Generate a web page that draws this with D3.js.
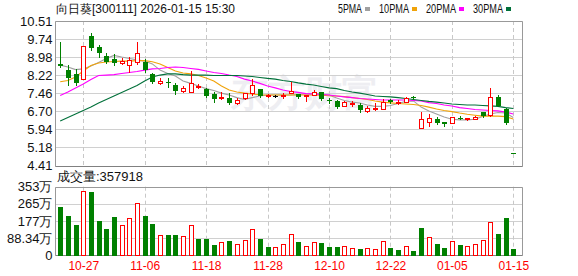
<!DOCTYPE html>
<html>
<head>
<meta charset="utf-8">
<script src="https://cdn.jsdelivr.net/npm/d3@7/dist/d3.min.js"></script>
<style>
  body { margin: 0; background: #fff; }
  svg { display: block; }
  text { font-family: "Liberation Sans", Arial, sans-serif; }
</style>
</head>
<body>
<div class="chart"></div>
<script>
// ---- data ----
var dates = ["10-22","10-23","10-24","10-27","10-28","10-29","10-30","10-31",
  "11-03","11-04","11-05","11-06","11-07","11-10","11-11","11-12","11-13","11-14",
  "11-17","11-18","11-19","11-20","11-21","11-24","11-25","11-26","11-27","11-28",
  "12-01","12-02","12-03","12-04","12-05","12-08","12-09","12-10","12-11","12-12",
  "12-15","12-16","12-17","12-18","12-19","12-22","12-23","12-24","12-25","12-26",
  "12-29","12-30","12-31","01-05","01-06","01-07","01-08","01-09","01-12","01-13",
  "01-14","01-15"];

var open  = [8.70,8.44,8.26,8.05,9.88,9.43,9.03,8.89,8.73,8.65, 8.79,8.79,8.27,7.88,7.92,7.83,7.56,7.53,7.74,7.63,
             7.42,7.27,7.28,7.04,7.25,7.46,7.63,7.36,7.36,7.36, 7.47,7.42,7.35,7.39,7.50,7.16,7.14,6.93,7.03,6.97,
             6.73,6.83,6.79,7.18,7.06,7.11,7.30,5.99,6.27,6.37, 6.24,6.20,6.42,6.40,6.38,6.66,6.55,7.32,6.79,4.95];
var high  = [9.64,8.66,8.47,9.46,10.02,9.50,9.17,9.12,8.94,9.00, 9.64,8.91,8.30,8.09,8.09,7.91,7.77,8.40,7.84,7.69,
             7.50,7.50,7.46,7.25,7.49,8.06,7.65,7.42,7.38,7.46, 7.94,7.44,7.40,7.60,7.53,7.25,7.20,7.14,7.14,7.04,
             6.92,7.04,7.23,7.24,7.18,7.32,7.33,6.69,6.58,6.48, 6.26,6.48,6.52,6.43,6.52,6.66,7.67,7.39,6.83,4.95];
var low   = [8.58,7.81,7.81,8.05,9.29,9.00,8.73,8.65,8.65,8.33, 8.65,8.37,7.88,7.81,7.74,7.43,7.46,7.46,7.63,7.30,
             7.11,7.18,7.00,6.97,7.18,7.35,7.32,7.25,7.32,7.21, 7.43,7.27,7.08,7.33,7.19,7.04,6.86,6.87,6.90,6.69,
             6.62,6.73,6.79,7.06,6.97,7.04,7.22,5.99,6.04,6.17, 6.10,6.20,6.37,6.31,6.37,6.45,6.45,6.93,6.17,4.94];
var close = [8.63,8.09,7.88,9.46,9.36,9.15,8.79,8.73,8.82,8.87, 9.15,8.44,7.95,7.98,7.90,7.58,7.70,7.91,7.76,7.35,
             7.22,7.30,7.07,7.18,7.46,7.81,7.36,7.39,7.36,7.39, 7.56,7.32,7.38,7.53,7.22,7.14,6.90,7.08,7.06,6.76,
             6.85,6.86,7.11,7.08,7.09,7.25,7.26,6.37,6.41,6.22, 6.16,6.45,6.40,6.42,6.48,6.52,7.29,6.93,6.20,4.94];

// volume in 万, and whether the bar is drawn red (1) or green (0)
var volume = [253,207,160,331,333,181,140,202,153,190, 267,207,165,102,109,109,97,153,88,88,
              57,66,78,55,76,133,88,47,40,55, 107,72,47,66,66,47,47,47,35,38,
              38,31,71,41,31,47,26,145,91,62, 41,71,57,47,55,78,169,114,196,35.79];
var volUp = [0,0,0,1,0,0,0,0,1,1, 1,0,0,1,0,0,1,1,0,0,
             0,1,0,1,1,1,0,0,1,1, 1,0,1,1,0,0,0,1,1,0,
             1,1,1,0,0,1,0,0,1,0, 0,1,0,1,1,1,1,0,0,0];

var ma5  = [8.65,8.57,8.46,8.49,8.61,8.76,8.93,9.06,8.99,8.93, 8.87,8.82,8.70,8.44,8.30,8.19,7.98,7.88,7.77,7.66,
            7.58,7.47,7.39,7.28,7.20,7.28,7.35,7.39,7.39,7.39, 7.39,7.41,7.43,7.45,7.43,7.39,7.26,7.16,7.09,7.05,
            6.97,6.91,6.91,6.95,7.03,7.12,7.14,6.88,6.72,6.59, 6.46,6.37,6.34,6.34,6.37,6.48,6.59,6.65,6.63,6.44];
var ma10 = [7.95,8.00,8.15,8.40,8.63,8.74,8.78,8.80,8.82,8.82, 8.84,8.84,8.79,8.70,8.55,8.40,8.32,8.28,8.21,8.11,
            7.98,7.77,7.60,7.52,7.47,7.43,7.40,7.39,7.39,7.39, 7.39,7.39,7.39,7.39,7.38,7.36,7.35,7.32,7.28,7.24,
            7.20,7.14,7.09,7.06,7.03,7.01,6.99,6.95,6.88,6.80, 6.74,6.69,6.63,6.58,6.54,6.50,6.50,6.50,6.48,6.38];
var ma20 = [7.37,7.52,7.69,7.85,8.04,8.21,8.23,8.25,8.30,8.34, 8.38,8.44,8.49,8.51,8.55,8.57,8.55,8.51,8.47,8.40,
            8.34,8.30,8.23,8.17,8.06,7.98,7.88,7.77,7.69,7.60, 7.54,7.50,7.45,7.43,7.41,7.39,7.35,7.31,7.28,7.24,
            7.22,7.20,7.18,7.18,7.18,7.18,7.16,7.14,7.07,7.03, 6.97,6.93,6.86,6.82,6.78,6.76,6.74,6.72,6.67,6.59];
var ma30 = [6.29,6.44,6.59,6.74,6.88,7.05,7.20,7.35,7.50,7.64, 7.79,7.98,8.15,8.23,8.28,8.28,8.25,8.23,8.23,8.23,
            8.21,8.21,8.21,8.21,8.19,8.17,8.13,8.09,8.06,8.00, 7.96,7.90,7.85,7.81,7.75,7.69,7.66,7.58,7.52,7.47,
            7.41,7.35,7.33,7.31,7.28,7.24,7.20,7.16,7.12,7.09, 7.05,7.01,6.99,6.97,6.97,6.95,6.93,6.91,6.86,6.82];

var maNames = ["5PMA", "10PMA", "20PMA", "30PMA"];
var maColors = ["#a0a0a0", "#f0a30a", "#ff00ff", "#00703a"];

var priceTicks = [10.51, 9.74, 8.98, 8.22, 7.46, 6.70, 5.94, 5.18, 4.41];
var volTicks = [0, 88.34, 176.68, 265.02, 353.36];
var volTickLabels = ["0", "88.34万", "177万", "265万", "353万"];
var dateTicks = ["10-27", "11-06", "11-18", "11-28", "12-10", "12-22", "01-05", "01-15"];

var title = "向日葵[300111] 2026-01-15 15:30";
var volTitle = "成交量:357918";

// ---- layout ----
const W = 578, H = 276;
const left = 55.5, right = 522.5;
const pTop = 21, pBot = 165.7, vTop = 186.7, vBot = 255;
const RED = "#ff0000", GREEN = "#008000";

var svg = d3.select(".chart").append("svg")
    .attr("width", W)
    .attr("height", H);

var x = d3.scalePoint().domain(dates).range([60.2, 513.3]);
var y = d3.scaleLinear().domain([4.41, 10.51]).range([pBot, pTop]);
var yv = d3.scaleLinear().domain([0, 353.36]).range([vBot, vTop]);

var px = d => Math.round(x(d));
var crisp = v => Math.round(v) + 0.5;

// watermark
svg.append("text")
    .attr("x", 231).attr("y", 106)
    .attr("font-family", "Noto Sans CJK SC")
    .attr("font-size", 37)
    .attr("font-weight", "bold")
    .attr("fill", "#eeeef2")
    .text("东方财富");

// horizontal grid (price)
svg.append("g").selectAll("line")
    .data(priceTicks)
    .join("line")
    .attr("x1", left).attr("x2", right)
    .attr("y1", d => crisp(y(d))).attr("y2", d => crisp(y(d)))
    .attr("stroke", "#d0d0d0");

// horizontal grid (volume)
svg.append("g").selectAll("line")
    .data(volTicks)
    .join("line")
    .attr("x1", left).attr("x2", right)
    .attr("y1", d => crisp(yv(d))).attr("y2", d => crisp(yv(d)))
    .attr("stroke", "#d0d0d0");

// vertical dashed grid
[[pTop, pBot], [vTop, vBot]].forEach(function(r) {
    svg.append("g").selectAll("line")
        .data(dateTicks)
        .join("line")
        .attr("x1", d => px(d) + 0.5).attr("x2", d => px(d) + 0.5)
        .attr("y1", r[0]).attr("y2", r[1])
        .attr("stroke", "#c8c8c8")
        .attr("stroke-dasharray", "4,3");
});

// panel borders
[[pTop, pBot], [vTop, vBot]].forEach(function(r) {
    var t = crisp(r[0]), b = crisp(r[1]);
    svg.append("path")
        .attr("d", `M${left},${b}V${t}H${right}V${b}`)
        .attr("fill", "none").attr("stroke", "#999");
    svg.append("line")
        .attr("x1", left).attr("x2", right).attr("y1", b).attr("y2", b)
        .attr("stroke", "#808080");
});

// moving averages
var line = d3.line().x((d, i) => x(dates[i])).y(d => y(d));
[ma5, ma10, ma20, ma30].forEach(function(ma, k) {
    svg.append("path")
        .datum(ma)
        .attr("d", line)
        .attr("fill", "none")
        .attr("stroke", maColors[k])
        .attr("stroke-width", 1.1);
});

// candles
var candles = dates.map((d, i) => ({ date: d, o: open[i], h: high[i], l: low[i], c: close[i] }));
var cg = svg.append("g").attr("shape-rendering", "crispEdges");

candles.forEach(function(d) {
    var cx = px(d.date);
    var color = d.c > d.o ? RED : (d.c < d.o ? GREEN : "#000");
    var yt = Math.round(y(Math.max(d.o, d.c)));
    var yb = Math.round(y(Math.min(d.o, d.c)));
    var yh = Math.round(y(d.h)), yl = Math.round(y(d.l));
    if (d.c > d.o) {
        // hollow red body, wick outside the body only
        if (yh < yt) cg.append("line").attr("x1", cx + 0.5).attr("x2", cx + 0.5).attr("y1", yh).attr("y2", yt).attr("stroke", color);
        if (yl > yb) cg.append("line").attr("x1", cx + 0.5).attr("x2", cx + 0.5).attr("y1", yb).attr("y2", yl).attr("stroke", color);
        cg.append("rect")
            .attr("x", cx - 1.5).attr("y", yt + 0.5)
            .attr("width", 4).attr("height", Math.max(yb - yt, 1))
            .attr("fill", "#fff").attr("stroke", color);
    } else {
        if (yl > yh) cg.append("line").attr("x1", cx + 0.5).attr("x2", cx + 0.5).attr("y1", yh).attr("y2", yl + 1).attr("stroke", color);
        cg.append("rect")
            .attr("x", cx - 2).attr("y", yt)
            .attr("width", 5).attr("height", Math.max(yb - yt, 1))
            .attr("fill", color);
    }
});

// volume bars
var vg = svg.append("g").attr("shape-rendering", "crispEdges");
vg.selectAll("rect")
    .data(volume)
    .join("rect")
    .attr("x", (d, i) => volUp[i] ? px(dates[i]) - 1.5 : px(dates[i]) - 2)
    .attr("y", d => Math.round(yv(d)) + 0.5)
    .attr("width", (d, i) => volUp[i] ? 4 : 5)
    .attr("height", d => Math.round(vBot) - Math.round(yv(d)))
    .attr("fill", (d, i) => volUp[i] ? "#fff" : GREEN)
    .attr("stroke", (d, i) => volUp[i] ? RED : "none");

// axes
var yAxis = svg.append("g")
    .attr("transform", `translate(${left},0)`)
    .call(d3.axisLeft(y).tickValues(priceTicks).tickSize(0).tickPadding(3).tickFormat(d3.format(".2f")));
yAxis.select(".domain").remove();
yAxis.selectAll("text").attr("font-size", 13).attr("fill", "#111").attr("font-family", "Liberation Sans");

var vAxis = svg.append("g")
    .attr("transform", `translate(${left},0)`)
    .call(d3.axisLeft(yv).tickValues(volTicks).tickSize(0).tickPadding(3).tickFormat((d, i) => volTickLabels[i]));
vAxis.select(".domain").remove();
vAxis.selectAll("text").attr("font-size", 13).attr("fill", "#111").attr("font-family", "Liberation Sans, Noto Sans CJK SC");

var xAxis = svg.append("g")
    .attr("transform", `translate(0,${vBot})`)
    .call(d3.axisBottom(x).tickValues(dateTicks).tickSize(0).tickPadding(6));
xAxis.select(".domain").remove();
xAxis.selectAll("text").attr("font-size", 12).attr("fill", RED).attr("font-family", "Liberation Sans");

// titles
svg.append("text")
    .attr("x", 56).attr("y", 13)
    .attr("font-family", "Noto Sans CJK SC")
    .attr("font-size", 12)
    .attr("fill", "#111")
    .text(title);

svg.append("text")
    .attr("x", 57).attr("y", 181)
    .attr("font-family", "Noto Sans CJK SC")
    .attr("font-size", 13)
    .attr("fill", "#111")
    .text(volTitle);

// legend: narrow serif text, about 6px per character as in the original
var lx = 338;
maNames.forEach(function(name, k) {
    var w = name.length * 6;
    svg.append("text")
        .attr("x", lx).attr("y", 13)
        .attr("font-family", "Liberation Serif")
        .attr("font-size", 12)
        .attr("fill", "#111")
        .attr("textLength", w)
        .attr("lengthAdjust", "spacingAndGlyphs")
        .text(name);
    svg.append("rect")
        .attr("x", lx + w + 3).attr("y", 7)
        .attr("width", 5).attr("height", 4)
        .attr("fill", maColors[k]);
    lx += w + 3 + 5 + 9;
});
</script>
</body>
</html>
